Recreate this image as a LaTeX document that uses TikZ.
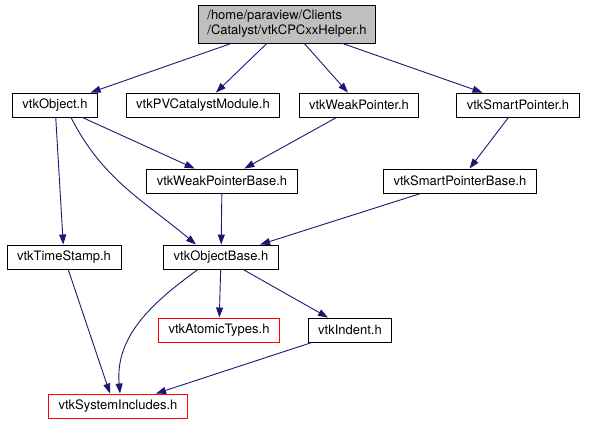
\documentclass[tikz,border=0pt]{standalone}
\usepackage{fontspec}
\setmainfont{TeX Gyre Heros}
\usetikzlibrary{arrows.meta}

\definecolor{edgeblue}{RGB}{25,25,112}
\definecolor{rootgray}{RGB}{191,191,191}

\begin{document}
\begin{tikzpicture}[
  x=1pt, y=1pt,
  % Node styles for the include graph
  header/.style={rectangle, draw=black, fill=white, line width=0.9pt, minimum height=24pt, inner xsep=10pt, inner ysep=2pt, font=\fontsize{13}{15}\selectfont},
  rootfile/.style={header, fill=rootgray, align=left, minimum height=38pt, inner xsep=9pt},
  missing/.style={header, draw=red},
  % Arrow style for the include edges
  dep/.style={draw=edgeblue, line width=0.9pt, -{Triangle[length=10pt,width=7pt]}, edgeblue}
]

% Layer 1: Bounding box
\useasboundingbox (0,0) rectangle (590,425);

% Layer 2: Header boxes
\node[rootfile] (root) at (287,401) {/home/paraview/Clients\\/Catalyst/vtkCPCxxHelper.h};
\node[header] (obj) at (55,320) {vtkObject.h};
\node[header] (pvcat) at (203,320) {vtkPVCatalystModule.h};
\node[header] (weak) at (359,320) {vtkWeakPointer.h};
\node[header] (smart) at (518,320) {vtkSmartPointer.h};
\node[header] (weakbase) at (222,244) {vtkWeakPointerBase.h};
\node[header] (smartbase) at (460,244) {vtkSmartPointerBase.h};
\node[header] (timestamp) at (64,168) {vtkTimeStamp.h};
\node[header] (objbase) at (221,168) {vtkObjectBase.h};
\node[missing] (atomic) at (219,95) {vtkAtomicTypes.h};
\node[header] (indent) at (350,95) {vtkIndent.h};
\node[missing] (sysinc) at (118,19) {vtkSystemIncludes.h};

% Layer 3: Include edges
\draw[dep] (root) -- (obj);
\draw[dep] (root) -- (pvcat);
\draw[dep] (root) -- (weak);
\draw[dep] (root) -- (smart);
\draw[dep] (obj) -- (weakbase);
\draw[dep] ([xshift=16pt]obj.south) to[out=-63,in=140] ([xshift=-25pt]objbase.north);
\draw[dep] (obj) -- (timestamp);
\draw[dep] (weak) -- (weakbase);
\draw[dep] (smart) -- (smartbase);
\draw[dep] (weakbase) -- (objbase);
\draw[dep] (smartbase) -- (objbase);
\draw[dep] (timestamp) -- ([xshift=-8pt]sysinc.north);
\draw[dep] ([xshift=-23pt]objbase.south) to[out=-144,in=95] ([xshift=2pt]sysinc.north);
\draw[dep] (objbase) -- (atomic);
\draw[dep] (objbase) -- (indent);
\draw[dep] (indent) -- (sysinc);

\end{tikzpicture}
\end{document}
